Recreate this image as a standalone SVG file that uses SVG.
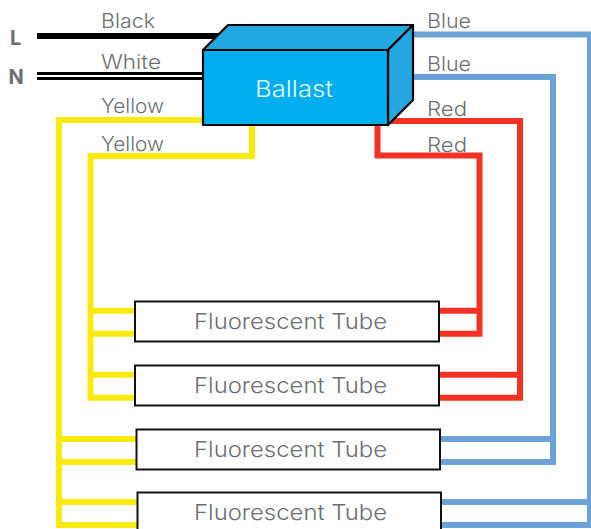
<svg xmlns="http://www.w3.org/2000/svg" width="591" height="529" viewBox="0 0 591 529">
<style>
text{font-family:"Inter","Open Sans","Liberation Sans",sans-serif;font-weight:300;fill:#6d6e71}
.lbl{font-size:20px}
.tube{font-size:22px;text-anchor:middle}
.lead{font-size:20px;font-weight:700}
.w{fill:none;stroke-width:6;stroke-linejoin:miter}
.y{stroke:#f9e90c}.r{stroke:#f33224}.b{stroke:#6ba2d8}
.k{fill:none;stroke:#000}
.box{fill:#fff;stroke:#111;stroke-width:2}
.bal{stroke:#000;stroke-width:2.2;stroke-linejoin:round}
</style>
<g id="connectors">
<path class="k" stroke-width="6" d="M37 36H222"/>
<path class="k" stroke-width="3" d="M37 73.500H205M37 78.500H205"/>
<path class="w y" d="M205 120H59V525H138M59 439H137M59 462H137M59 502H138"/>
<path class="w y" d="M252 124V156H90.500V397.700H136M90.500 310.700H136M90.500 333.700H136M90.500 374.700H136"/>
<path class="w r" d="M376 121H520V397.700H438M520 374.700H438"/>
<path class="w r" d="M377.500 124V155.500H479.500V333.700H438M479.500 310.700H438"/>
<path class="w b" d="M412 34.500H590V525H440M590 502H440"/>
<path class="w b" d="M412 77H553V462H439M553 439H439"/>
</g>
<g id="ballast">
<path class="bal" fill="#22a7e0" d="M203 50L228 25H413L388 50Z"/>
<path class="bal" fill="#22a7e0" d="M388 50L413 25V100L388 125Z"/>
<rect class="bal" x="203" y="50" width="185" height="75" fill="#00aeef"/>
<text x="255" y="97" style="fill:#e8f7fd;font-size:23px" textLength="78" lengthAdjust="spacingAndGlyphs">Ballast</text>
</g>
<g id="tube1"><rect class="box" x="135" y="301.500" width="304" height="40"/><text class="tube" x="290.500" y="329" textLength="193" lengthAdjust="spacingAndGlyphs">Fluorescent Tube</text></g>
<g id="tube2"><rect class="box" x="135" y="365.500" width="304" height="40"/><text class="tube" x="290.500" y="393" textLength="193" lengthAdjust="spacingAndGlyphs">Fluorescent Tube</text></g>
<g id="tube3"><rect class="box" x="136.500" y="429.500" width="303.500" height="40"/><text class="tube" x="290.500" y="457" textLength="193" lengthAdjust="spacingAndGlyphs">Fluorescent Tube</text></g>
<g id="tube4"><rect class="box" x="137.500" y="492.500" width="303.500" height="40"/><text class="tube" x="290.500" y="520" textLength="193" lengthAdjust="spacingAndGlyphs">Fluorescent Tube</text></g>
<g id="labels">
<text class="lead" x="10" y="44.500">L</text>
<text class="lead" x="8.500" y="84">N</text>
<text class="lbl" x="101" y="28" textLength="54" lengthAdjust="spacingAndGlyphs">Black</text>
<text class="lbl" x="101" y="69" textLength="60" lengthAdjust="spacingAndGlyphs">White</text>
<text class="lbl" x="101" y="113" textLength="63" lengthAdjust="spacingAndGlyphs">Yellow</text>
<text class="lbl" x="101" y="151" textLength="63" lengthAdjust="spacingAndGlyphs">Yellow</text>
<text class="lbl" x="427" y="28" textLength="44" lengthAdjust="spacingAndGlyphs">Blue</text>
<text class="lbl" x="427" y="71" textLength="44" lengthAdjust="spacingAndGlyphs">Blue</text>
<text class="lbl" x="427" y="116" textLength="40" lengthAdjust="spacingAndGlyphs">Red</text>
<text class="lbl" x="427" y="152" textLength="40" lengthAdjust="spacingAndGlyphs">Red</text>
</g>
</svg>
